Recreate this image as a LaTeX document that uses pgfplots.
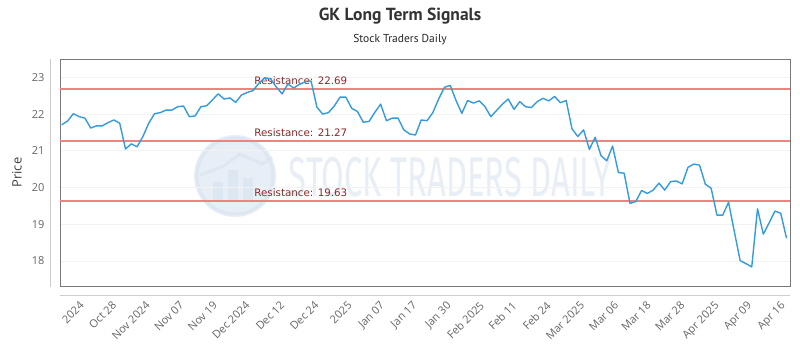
\documentclass[border=0pt]{standalone}
\usepackage{pgfplots}
\pgfplotsset{compat=1.18}
\usepackage{fontspec}
\setmainfont{Open Sans}
\newfontfamily\titlefont{PT Sans}
\newfontfamily\resfont{DejaVu Sans}
\newfontfamily\wmfont{Fira Sans}

\definecolor{priceblue}{RGB}{52,155,225}
\definecolor{reslinecol}{RGB}{240,130,130}
\definecolor{restext}{RGB}{140,40,40}
\definecolor{tickgray}{RGB}{102,102,102}
\definecolor{axisdark}{RGB}{120,120,120}
\definecolor{axislight}{RGB}{205,205,205}
\definecolor{gridc}{RGB}{242,242,242}
\definecolor{wm}{RGB}{232,238,245}
\definecolor{wmring}{RGB}{221,231,241}

\pgfplotstableread{
x y
0 21.71
1 21.81
2 22.01
3 21.93
4 21.89
5 21.62
6 21.68
7 21.68
8 21.77
9 21.84
10 21.75
11 21.05
12 21.19
13 21.11
14 21.39
15 21.75
16 22.01
17 22.04
18 22.11
19 22.11
20 22.20
21 22.22
22 21.93
23 21.95
24 22.20
25 22.23
26 22.39
27 22.55
28 22.41
29 22.44
30 22.32
31 22.52
32 22.59
33 22.64
34 22.84
35 22.99
36 22.96
37 22.74
38 22.55
39 22.82
40 22.71
41 22.81
42 22.88
43 22.90
44 22.19
45 22.00
46 22.04
47 22.22
48 22.46
49 22.46
50 22.16
51 22.07
52 21.78
53 21.80
54 22.05
55 22.27
56 21.82
57 21.89
58 21.89
59 21.57
60 21.46
61 21.43
62 21.84
63 21.82
64 22.04
65 22.41
66 22.73
67 22.78
68 22.37
69 22.02
70 22.37
71 22.30
72 22.36
73 22.20
74 21.93
75 22.10
76 22.27
77 22.41
78 22.13
79 22.34
80 22.20
81 22.18
82 22.34
83 22.43
84 22.36
85 22.48
86 22.31
87 22.37
88 21.60
89 21.39
90 21.57
91 21.04
92 21.37
93 20.87
94 20.73
95 21.13
96 20.41
97 20.39
98 19.57
99 19.62
100 19.92
101 19.84
102 19.93
103 20.12
104 19.93
105 20.16
106 20.18
107 20.10
108 20.55
109 20.64
110 20.61
111 20.09
112 19.98
113 19.25
114 19.25
115 19.60
116 18.80
117 18.01
118 17.93
119 17.84
120 19.42
121 18.73
122 19.04
123 19.36
124 19.30
125 18.62
}\pricedata

\begin{document}
\begin{tikzpicture}
\path[use as bounding box, fill=white] (0pt,0pt) rectangle (800pt,350pt);
% title
\node[font=\titlefont\bfseries\fontsize{17.5}{20}\selectfont, text=black!80] at (400pt,334pt) {GK Long Term Signals};
\node[font=\titlefont\fontsize{11.5}{13}\selectfont, text=black!85] at (400pt,310pt) {Stock Traders Daily};
% watermark
\fill[wm] (235pt,174pt) circle (41pt);
\draw[wmring, line width=3pt] (235pt,174pt) circle (38pt);
\fill[wmring] (213pt,150pt) rectangle (223pt,168pt);
\fill[wmring] (228pt,150pt) rectangle (238pt,180pt);
\fill[wmring] (243pt,150pt) rectangle (253pt,172pt);
\draw[wmring, line width=3pt] (200pt,175pt) -- (222pt,183pt) -- (240pt,196pt) -- (262pt,186pt) -- (272pt,192pt);
\node[text=wm, font=\wmfont\fontsize{56}{56}\selectfont, inner sep=0pt] at (450pt,173pt) {\scalebox{0.584}[1]{STOCK TRADERS DAILY}};
% outer light axis lines
\draw[axislight, line width=1pt] (50pt,63pt) -- (50pt,291pt);
\draw[axislight, line width=1pt] (60pt,54pt) -- (790pt,54pt);
\begin{axis}[
  at={(60pt,64pt)}, anchor=south west,
  width=730pt, height=227pt, scale only axis,
  xmin=-0.3, xmax=125.6, ymin=17.32, ymax=23.5,
  axis line style={axisdark, line width=0.8pt},
  ytick={18,19,20,21,22,23},
  ymajorgrids, grid style={gridc, line width=0.8pt},
  major tick length=0pt,
  /pgf/number format/assume math mode=true,
  yticklabel style={font=\fontsize{11}{13}\selectfont, text=tickgray, xshift=-12pt},
  xtick={4,9.6,15.4,21.2,27,32.6,38.6,44.5,50.2,55.8,61.4,67.3,73,78.6,84.5,90.3,96.2,101.8,107.6,113.5,119.1,124.9},
  xticklabels={2024,Oct 28,Nov 2024,Nov 07,Nov 19,Dec 2024,Dec 12,Dec 24,2025,Jan 07,Jan 17,Jan 30,Feb 2025,Feb 11,Feb 24,Mar 2025,Mar 06,Mar 18,Mar 28,Apr 2025,Apr 09,Apr 16},
  xticklabel style={font=\fontsize{11}{13}\selectfont, text=tickgray, xshift=-6pt, yshift=-13pt, rotate=45, anchor=north east, inner sep=1pt},
  ylabel={Price},
  every axis y label/.style={at={(axis description cs:-0.059,0.5)}, rotate=90, anchor=center, font=\fontsize{13}{15}\selectfont, text=black!75},
  clip=false,
]
\addplot[reslinecol, line width=1.6pt, forget plot] coordinates {(-0.3,22.69) (125.6,22.69)};
\addplot[reslinecol, line width=1.6pt, forget plot] coordinates {(-0.3,21.27) (125.6,21.27)};
\addplot[reslinecol, line width=1.6pt, forget plot] coordinates {(-0.3,19.63) (125.6,19.63)};
\node[anchor=base west, inner sep=0pt, text=restext, font=\resfont\fontsize{10.3}{12}\selectfont, yshift=4.5pt] at (axis cs:33.2,22.69) {Resistance: 22.69};
\node[anchor=base west, inner sep=0pt, text=restext, font=\resfont\fontsize{10.3}{12}\selectfont, yshift=4.5pt] at (axis cs:33.2,21.27) {Resistance: 21.27};
\node[anchor=base west, inner sep=0pt, text=restext, font=\resfont\fontsize{10.3}{12}\selectfont, yshift=4.5pt] at (axis cs:33.2,19.63) {Resistance: 19.63};
\addplot[priceblue, line width=1.4pt, line join=round] table[x=x, y=y] {\pricedata};
\end{axis}
\end{tikzpicture}
\end{document}
